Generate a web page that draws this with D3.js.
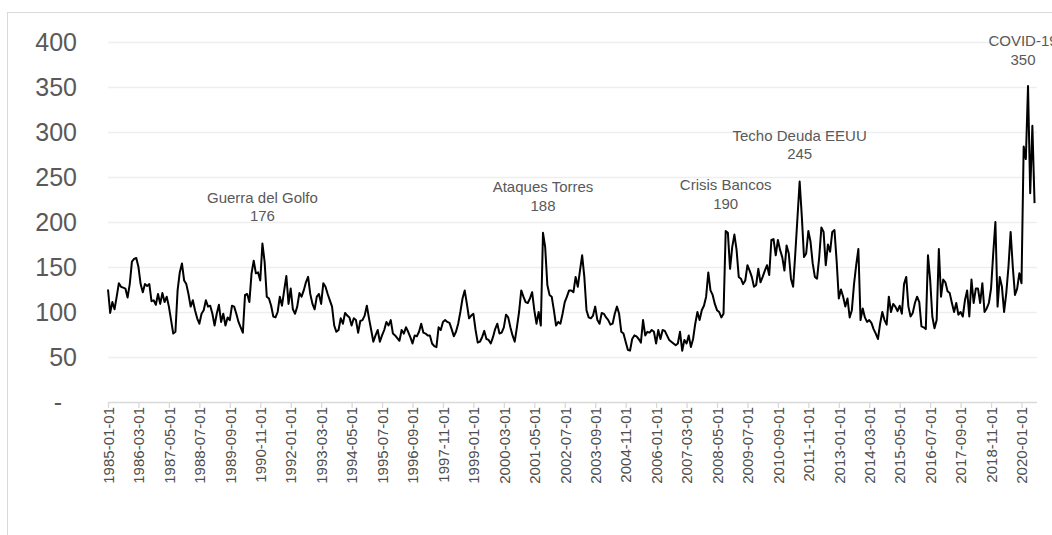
<!DOCTYPE html>
<html>
<head>
<meta charset="utf-8">
<script src="https://cdn.jsdelivr.net/npm/d3@7"></script>
<style>
  body { margin: 0; background: #fff; }
  text { font-family: "Liberation Sans", Arial, sans-serif; }
</style>
</head>
<body>
<div id="chart"></div>
<script>
// monthly values, 1985-01 onwards
var values = [
  125,99,111,103,117,132,128,127,126,116,131,156,159,160,150,131,122,131,129,131,
  112,113,108,120,109,121,111,117,106,91,76,78,124,144,154,135,131,120,106,113,
  102,93,87,98,102,113,106,107,98,85,98,
  108,89,98,85,94,91,107,106,98,89,83,77,119,120,111,143,157,143,144,135,176,
  156,117,115,107,95,94,100,117,107,124,140,109,126,103,98,106,121,117,124,133,
  139,120,109,103,117,120,109,132,128,120,113,106,
  85,78,80,93,87,99,96,94,85,93,91,77,90,91,96,107,93,80,67,74,
  80,67,74,80,89,85,91,76,74,71,68,80,76,83,78,72,65,74,73,78,
  87,77,76,74,74,65,62,61,83,80,89,91,89,
  88,81,73,78,87,100,115,124,109,93,96,98,80,66,67,72,79,70,69,65,
  72,81,87,76,77,83,97,94,83,74,67,83,100,124,117,111,110,115,122,102,
  87,100,85,188,
  172,130,119,117,102,85,89,87,98,111,
  117,124,124,122,139,128,146,163,
  139,102,94,93,96,106,91,87,99,98,94,91,86,87,98,106,98,78,76,67,
  58,57,70,74,73,70,66,91,74,78,77,80,78,65,80,70,80,79,74,69,
  67,65,63,
  65,78,57,69,65,74,61,70,87,100,91,102,107,117,144,124,119,109,102,100,
  94,98,190,
  188,148,172,186,169,139,137,131,135,152,146,139,128,130,148,133,139,146,152,141,
  180,181,163,180,169,161,146,174,165,137,
  128,165,205,245,
  206,161,165,190,178,154,139,137,161,194,189,152,175,167,189,191,157,115,125,117,
  106,115,94,102,131,152,170,91,104,94,89,91,88,81,76,70,87,100,91,86,
  117,100,109,106,101,107,98,131,139,106,
  95,99,110,117,111,84,83,81,163,
  136,95,82,91,170,
  117,136,133,123,121,110,100,110,97,100,95,113,124,95,136,110,126,126,110,132,
  100,104,110,126,165,200,
  106,139,128,100,121,150,189,
  150,119,126,143,132,
  284,270,351,232,307,221
];

// category labels (one per month)
var parseStart = new Date(1985, 0, 1);
var months = d3.timeMonth.range(parseStart, d3.timeMonth.offset(parseStart, values.length))
  .map(d3.timeFormat("%Y-%m-%d"));

// labelled axis categories (every 14 months)
var tickLabels = ["1985-01-01","1986-03-01","1987-05-01","1988-07-01","1989-09-01","1990-11-01",
  "1992-01-01","1993-03-01","1994-05-01","1995-07-01","1996-09-01","1997-11-01","1999-01-01",
  "2000-03-01","2001-05-01","2002-07-01","2003-09-01","2004-11-01","2006-01-01","2007-03-01",
  "2008-05-01","2009-07-01","2010-09-01","2011-11-01","2013-01-01","2014-03-01","2015-05-01",
  "2016-07-01","2017-09-01","2018-11-01","2020-01-01"];

var yTicks = [0, 50, 100, 150, 200, 250, 300, 350, 400];

// annotated events
var eventNames = ["Guerra del Golfo", "Ataques Torres", "Crisis Bancos", "Techo Deuda EEUU", "COVID-19"];
var eventLabels = ["176", "188", "190", "245", "350"];
var eventMonths = ["1990-12-01", "2001-09-01", "2008-09-01", "2011-07-01", "2020-04-01"];

var svgWidth = 1052;
var svgHeight = 535;

var chartMargin = { top: 42, right: 15, bottom: 133, left: 108 };
var chartWidth = 1037 - chartMargin.left;
var chartHeight = svgHeight - chartMargin.top - chartMargin.bottom;

var svg = d3.select("#chart")
  .append("svg")
  .attr("width", svgWidth)
  .attr("height", svgHeight);

// outer chart border
svg.append("rect")
  .attr("x", 7.5)
  .attr("y", 12.5)
  .attr("width", 1100)
  .attr("height", 600)
  .attr("fill", "none")
  .attr("stroke", "#d9d9d9");

var chartGroup = svg.append("g")
  .attr("transform", `translate(${chartMargin.left}, ${chartMargin.top})`);

var xScale = d3.scaleLinear()
  .domain([0, 420])
  .range([0, 913.5]);

var yScale = d3.scaleLinear()
  .domain([0, 400])
  .range([chartHeight, 0]);

// gridlines
chartGroup.append("g")
  .selectAll("line")
  .data(yTicks.filter(d => d > 0))
  .enter()
  .append("line")
  .attr("x1", 0)
  .attr("x2", chartWidth)
  .attr("y1", d => Math.round(yScale(d)) + 0.5)
  .attr("y2", d => Math.round(yScale(d)) + 0.5)
  .attr("stroke", "#eeeeee")
  .attr("stroke-width", 1.3);

// y axis labels
var leftAxis = d3.axisLeft(yScale)
  .tickValues(yTicks)
  .tickSize(0)
  .tickPadding(31)
  .tickFormat(d => d === 0 ? "-" : d);

var yAxis = chartGroup.append("g").call(leftAxis);
yAxis.select(".domain").remove();
yAxis.selectAll("text")
  .attr("font-size", "25px")
  .attr("fill", "#595959")
  .attr("font-family", "Liberation Sans, Arial, sans-serif")
  .attr("dx", d => d === 0 ? -15 : 0);

// x axis
var bottomAxis = d3.axisBottom(xScale)
  .tickValues(tickLabels.map(t => months.indexOf(t)))
  .tickSize(6)
  .tickSizeOuter(0)
  .tickFormat(i => months[i]);

var xAxis = chartGroup.append("g")
  .attr("transform", `translate(0, ${chartHeight})`)
  .call(bottomAxis);

xAxis.select(".domain")
  .attr("d", `M0,0.5H${chartWidth}`)
  .attr("stroke", "#d9d9d9")
  .attr("stroke-width", 1.5);
xAxis.selectAll(".tick line").attr("stroke", "#d9d9d9").attr("stroke-width", 1.3);
xAxis.selectAll("text")
  .attr("font-size", "15px")
  .attr("fill", "#4d4d4d")
  .attr("font-family", "Liberation Sans, Arial, sans-serif")
  .attr("text-anchor", "end")
  .attr("transform", "rotate(-90)")
  .attr("x", -5)
  .attr("y", 0)
  .attr("dy", "0.35em");

// the series line
var line = d3.line()
  .x((d, i) => xScale(i))
  .y(d => yScale(d));

chartGroup.append("path")
  .datum(values)
  .attr("d", line)
  .attr("fill", "none")
  .attr("stroke", "#000")
  .attr("stroke-width", 2)
  .attr("stroke-linejoin", "round");

// event annotations
eventNames.forEach(function(name, k) {
  var idx = months.indexOf(eventMonths[k]);
  var px = xScale(idx);
  // last label sits a little left of its peak, as in the source
  if (k === eventNames.length - 1) px -= 5;
  var py = yScale(+eventLabels[k]);
  var g = chartGroup.append("g")
    .attr("text-anchor", "middle")
    .attr("fill", "#595959")
    .attr("font-size", "15px");
  g.append("text")
    .attr("x", px)
    .attr("y", py - 46)
    .attr("dy", "0.35em")
    .text(name);
  g.append("text")
    .attr("x", px)
    .attr("y", py - 27.5)
    .attr("dy", "0.35em")
    .text(eventLabels[k]);
});
</script>
</body>
</html>
